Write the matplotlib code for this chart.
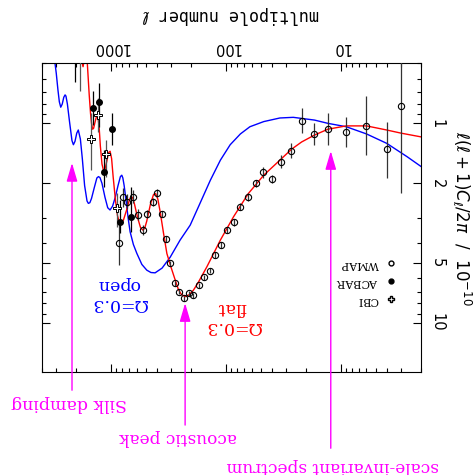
import matplotlib
matplotlib.use("Agg")
import matplotlib.pyplot as plt
from matplotlib.ticker import FixedLocator, LogLocator, NullFormatter, FuncFormatter
from matplotlib.lines import Line2D

# model curves
flat_l = [2, 3, 4, 6, 9, 13, 17, 22, 27, 34, 47, 64, 86, 112, 147, 175, 192, 210,
          227, 245, 260, 277, 300, 327, 350, 374, 392, 410, 428, 455, 490, 510,
          530, 555, 590, 625, 645, 665, 690, 730, 780, 820, 850, 880, 915, 960,
          990, 1020, 1050, 1090, 1130, 1165, 1200, 1240, 1270, 1300, 1330, 1370,
          1420, 1450, 1480, 1510, 1550, 1610, 1650, 1700, 1754, 1810, 1870]
flat_v = [1.17, 1.12, 1.08, 1.03, 1.03, 1.07, 1.145, 1.24, 1.35, 1.53, 1.82, 2.25,
          2.94, 3.85, 5.25, 6.3, 6.86, 7.25, 7.4, 7.2, 6.8, 6.1, 5.3, 4.5, 3.55,
          2.78, 2.4, 2.25, 2.28, 2.55, 3.1, 3.36, 3.43, 3.33, 2.95, 2.55, 2.38,
          2.33, 2.4, 2.7, 3.05, 3.17, 3.12, 2.9, 2.45, 1.85, 1.5, 1.38, 1.4, 1.55,
          1.7, 1.72, 1.6, 1.3, 1.05, 0.93, 0.91, 0.97, 1.06, 1.07, 1.0, 0.89, 0.72,
          0.5, 0.46, 0.47, 0.52, 0.48, 0.42]

open_l = [2, 2.66, 4, 6, 9, 13, 17, 26, 34, 47, 62, 75, 92, 112, 137, 168, 205,
          251, 306, 360, 414, 450, 489, 540, 597, 640, 683, 710, 740, 770, 790,
          807, 830, 870, 920, 970, 1021, 1070, 1130, 1200, 1250, 1288, 1330, 1400,
          1480, 1530, 1577, 1620, 1700, 1780, 1850, 1929, 1990, 2060, 2128, 2190,
          2300, 2400, 2470, 2514, 2580, 2660, 2742, 2820, 2900, 3000, 3076, 3266]
open_v = [1.65, 1.47, 1.26, 1.13, 1.04, 1.0, 0.963, 0.933, 0.94, 0.98, 1.04, 1.13,
          1.28, 1.53, 1.93, 2.51, 3.24, 3.85, 4.69, 5.32, 5.62, 5.6, 5.45, 5.1,
          4.49, 4.05, 3.5, 3.0, 2.45, 2.05, 1.88, 1.82, 1.85, 2.05, 2.35, 2.6,
          2.72, 2.65, 2.35, 2.0, 1.87, 1.85, 1.88, 2.1, 2.38, 2.5, 2.52, 2.45,
          2.05, 1.5, 1.2, 1.08, 1.12, 1.23, 1.28, 1.22, 0.98, 0.8, 0.73, 0.72,
          0.74, 0.8, 0.83, 0.78, 0.68, 0.56, 0.5, 0.42]

# data points
wmap_l = [3, 4, 6, 9, 13, 17, 22, 27, 33, 40, 48, 55, 64, 75, 86, 98, 111, 124,
          139, 155, 171, 192, 208, 231, 259, 277, 306, 332, 362, 400, 434, 483,
          530, 586, 647, 730, 781, 847]
wmap_v = [0.82, 1.35, 1.03, 1.11, 1.07, 1.135, 0.97, 1.37, 1.56, 1.91, 1.75, 2.0,
          2.33, 2.62, 3.14, 3.43, 4.08, 4.58, 5.49, 5.93, 6.47, 7.28, 7.13, 7.54,
          7.0, 6.35, 5.04, 3.8, 2.85, 2.23, 2.47, 2.85, 3.43, 2.88, 2.33, 2.47,
          2.35, 4.0]
wmap_lo = [0.3, 0.98, 0.73, 0.93, 0.89, 1.0, 0.84, 1.26, 1.44, 1.82, 1.65, 1.92,
           2.23, 2.52, 3.03, 3.31, 3.95, 4.44, 5.33, 5.76, 6.29, 7.08, 6.93, 7.33,
           6.8, 6.16, 4.89, 3.68, 2.75, 2.14, 2.36, 2.71, 3.25, 2.7, 2.15, 2.25,
           2.1, 3.16]
wmap_hi = [2.23, 1.89, 1.44, 1.31, 1.29, 1.29, 1.12, 1.5, 1.68, 2.0, 1.87, 2.09,
           2.44, 2.73, 3.26, 3.56, 4.22, 4.73, 5.66, 6.11, 6.66, 7.49, 7.34, 7.76,
           7.21, 6.55, 5.2, 3.93, 2.96, 2.33, 2.59, 3.0, 3.62, 3.07, 2.52, 2.7,
           2.62, 5.13]

acbar_l = [669, 835, 986, 1143, 1272, 1426, 2056]
acbar_v = [2.94, 3.11, 1.07, 1.75, 0.78, 0.84, 0.40]
acbar_lo = [2.08, 2.42, 0.89, 1.36, 0.63, 0.69, 0.30]
acbar_hi = [3.50, 3.55, 1.29, 2.08, 1.04, 1.02, 0.62]

cbi_l = [881, 1112, 1306, 1503, 1862]
cbi_v = [2.67, 1.43, 0.91, 1.20, 0.40]
cbi_lo = [2.24, 1.21, 0.75, 0.89, 0.30]
cbi_hi = [3.30, 1.85, 1.10, 1.72, 0.69]

x_ticks = [10, 100, 1000]
y_ticks = [1, 2, 5, 10]

MAG = "#ff00ff"

fig = plt.figure(figsize=(4.75, 4.75), dpi=100)
ax = fig.add_axes([0.0874, 0.2175, 0.7996, 0.6492])
ax.set_xscale("log")
ax.set_yscale("log")
# the whole picture is upside down
ax.set_xlim(4030, 2)
ax.set_ylim(17.6, 0.5)

ax.plot(open_l, open_v, color="blue", lw=1.0, zorder=2)
ax.plot(flat_l, flat_v, color="red", lw=1.0, zorder=2)


def errs(v, lo, hi):
    return [[a - b for a, b in zip(v, lo)], [c - a for a, c in zip(v, hi)]]


ax.errorbar(wmap_l, wmap_v, yerr=errs(wmap_v, wmap_lo, wmap_hi), fmt="o", ms=4.5,
            mfc="none", mec="black", mew=0.8, ecolor="#333333", elinewidth=0.9,
            capsize=0, zorder=3)
ax.errorbar(acbar_l, acbar_v, yerr=errs(acbar_v, acbar_lo, acbar_hi), fmt="o",
            ms=4, mfc="black", mec="black", ecolor="black", elinewidth=0.9,
            capsize=0, zorder=3)
ax.errorbar(cbi_l, cbi_v, yerr=errs(cbi_v, cbi_lo, cbi_hi), fmt="P", ms=5.5,
            mfc="white", mec="black", mew=0.7, ecolor="#555555", elinewidth=0.9,
            capsize=0, zorder=3)

# ticks
ax.xaxis.set_major_locator(FixedLocator(x_ticks))
ax.xaxis.set_minor_locator(LogLocator(subs=range(2, 10)))
ax.xaxis.set_major_formatter(FuncFormatter(lambda v, p: "%g" % v))
ax.xaxis.set_minor_formatter(NullFormatter())
ax.yaxis.set_major_locator(FixedLocator(y_ticks))
ax.yaxis.set_minor_locator(LogLocator(subs=range(2, 10)))
ax.yaxis.set_major_formatter(FuncFormatter(lambda v, p: "%g" % v))
ax.yaxis.set_minor_formatter(NullFormatter())
ax.tick_params(which="both", direction="in", top=True, bottom=True, left=True,
               right=True, labeltop=True, labelbottom=False, labelleft=False,
               labelright=True, width=0.8)
ax.tick_params(which="major", length=5.8)
ax.tick_params(which="minor", length=3)
ax.tick_params(axis="x", labelrotation=180, pad=6, labelsize=10.5)
ax.tick_params(axis="y", labelrotation=270, pad=6, labelsize=10.5)
for t in ax.get_yticklabels():
    t.set_va("center")

fig.text(0.486, 0.968, r"multipole number $\ell$", rotation=180, ha="center",
         va="center", family="DejaVu Sans Mono", size=12)
fig.text(0.9726, 0.541, r"$\ell(\ell+1)C_\ell/2\pi\ \ /\ \ 10^{-10}$",
         rotation=270, ha="center", va="center", size=12)

# legend
h1 = Line2D([], [], marker="o", ls="none", mfc="white", mec="black", ms=3.5,
            label="WMAP")
h2 = Line2D([], [], marker="o", ls="none", mfc="black", mec="black", ms=3.5,
            label="ACBAR")
h3 = Line2D([], [], marker="P", ls="none", mfc="white", mec="black", ms=5,
            label="CBI")
leg = ax.legend(handles=[h1, h2, h3], loc="center", bbox_to_anchor=(0.857, 0.291),
                frameon=False, markerfirst=False, handlelength=1,
                handletextpad=0.6, labelspacing=0.75,
                prop={"family": "DejaVu Serif", "size": 8})
for t in leg.get_texts():
    t.set_rotation(180)

# model labels
ax.text(88.3, 9.37, "Ω=0.3\nflat", rotation=180, ha="center", va="center",
        color="red", family="DejaVu Serif", size=12.5, multialignment="center")
ax.text(869, 7.19, "Ω=0.3\nopen", rotation=180, ha="center", va="center",
        color="blue", family="DejaVu Serif", size=12.5, multialignment="center")

# magenta annotations
arrow = dict(arrowstyle="-|>,head_length=0.75,head_width=0.22", color=MAG,
             lw=1, mutation_scale=15, shrinkA=0, shrinkB=0)
ax.annotate("", xy=(2188, 1.58), xytext=(2188, 21.8), arrowprops=arrow,
            annotation_clip=False)
ax.annotate("", xy=(227, 7.97), xytext=(227, 32.6), arrowprops=arrow,
            annotation_clip=False)
ax.annotate("", xy=(12.27, 1.377), xytext=(12.27, 42.6), arrowprops=arrow,
            annotation_clip=False)
ax.text(2323, 25.3, "Silk damping", rotation=180, ha="center", va="center",
        color=MAG, family="DejaVu Serif", size=12.5, clip_on=False)
ax.text(261, 37.5, "acoustic peak", rotation=180, ha="center", va="center",
        color=MAG, family="DejaVu Serif", size=12.2, clip_on=False)
ax.text(11.9, 52.4, "scale-invariant spectrum", rotation=180, ha="center",
        va="center", color=MAG, family="DejaVu Serif", size=12.2, clip_on=False)

fig.savefig("out.png", dpi=100)
